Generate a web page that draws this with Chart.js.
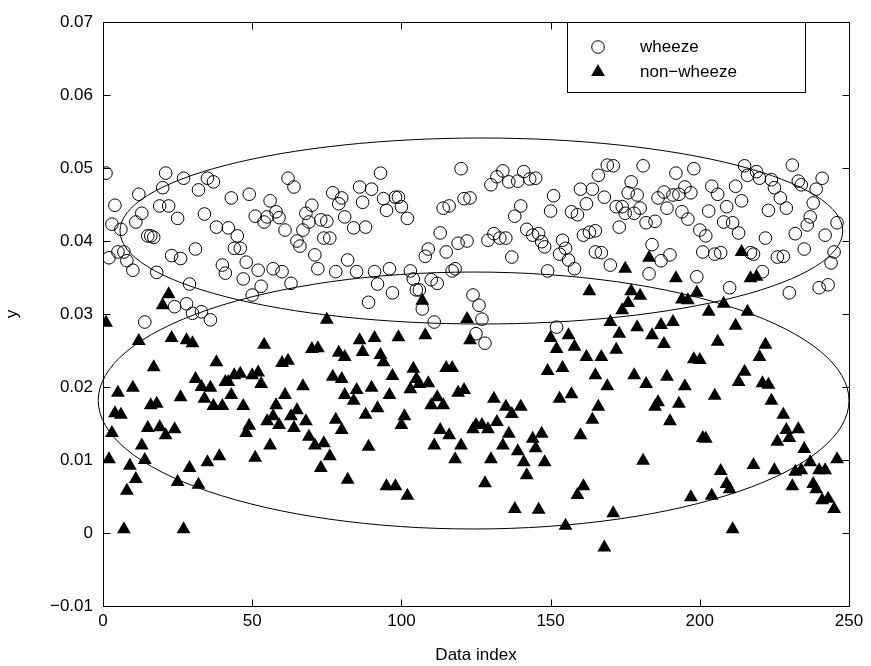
<!DOCTYPE html>
<html>
<head>
<meta charset="utf-8">
<script src="https://cdn.jsdelivr.net/npm/chart.js@4.4.0/dist/chart.umd.min.js"></script>
<style>
  html, body { margin: 0; padding: 0; background: #fff; }
  canvas { display: block; }
</style>
</head>
<body>
<canvas id="chart" width="871" height="666"></canvas>
<script>
const xTicks = [0, 50, 100, 150, 200, 250];
const yTicks = [-0.01, 0, 0.01, 0.02, 0.03, 0.04, 0.05, 0.06, 0.07];

const wheezeIndex = [
  1, 2, 3, 4, 5, 6, 7, 8, 10, 11,
  12, 13, 14, 15, 16, 17, 18, 19, 20, 21,
  22, 23, 24, 25, 26, 27, 28, 29, 30, 31,
  32, 33, 34, 35, 36, 37, 38, 40, 41, 42,
  43, 44, 45, 46, 47, 48, 49, 50, 51, 52,
  53, 54, 55, 56, 57, 58, 59, 60, 61, 62,
  63, 64, 65, 66, 67, 68, 69, 70, 71, 72,
  73, 74, 75, 76, 77, 78, 79, 80, 81, 82,
  84, 85, 86, 87, 88, 89, 90, 91, 92, 93,
  94, 95, 96, 97, 98, 99, 100, 102, 103, 104,
  105, 106, 107, 108, 109, 110, 111, 112, 113, 114,
  115, 116, 117, 118, 119, 120, 121, 122, 123, 124,
  125, 126, 127, 128, 129, 130, 131, 132, 133, 134,
  135, 136, 137, 138, 139, 140, 141, 142, 143, 144,
  145, 146, 147, 148, 149, 150, 151, 152, 153, 154,
  155, 156, 157, 158, 159, 160, 161, 162, 163, 164,
  165, 165, 166, 167, 168, 169, 170, 171, 172, 173,
  174, 175, 176, 177, 178, 179, 180, 181, 182, 183,
  184, 185, 186, 187, 188, 189, 190, 191, 192, 193,
  194, 195, 196, 197, 198, 199, 200, 201, 202, 203,
  204, 205, 206, 207, 208, 209, 210, 211, 212, 213,
  214, 215, 216, 217, 218, 219, 220, 221, 222, 223,
  224, 225, 226, 227, 228, 229, 230, 231, 232, 233,
  234, 235, 236, 237, 238, 239, 240, 241, 242, 243,
  244, 245, 246
];
const wheezeValue = [
  0.0493, 0.0377, 0.0423, 0.0449, 0.0385, 0.0416, 0.0385, 0.0373, 0.0360, 0.0426,
  0.0464, 0.0438, 0.0289, 0.0407, 0.0407, 0.0405, 0.0357, 0.0448, 0.0473, 0.0493,
  0.0448, 0.0380, 0.0310, 0.0431, 0.0376, 0.0486, 0.0314, 0.0341, 0.0301, 0.0389,
  0.0470, 0.0303, 0.0437, 0.0486, 0.0292, 0.0481, 0.0419, 0.0367, 0.0356, 0.0418,
  0.0459, 0.0390, 0.0407, 0.0390, 0.0348, 0.0371, 0.0464, 0.0326, 0.0434, 0.0360,
  0.0338, 0.0426, 0.0433, 0.0455, 0.0362, 0.0440, 0.0432, 0.0358, 0.0415, 0.0486,
  0.0342, 0.0474, 0.0400, 0.0393, 0.0415, 0.0438, 0.0426, 0.0449, 0.0381, 0.0362,
  0.0429, 0.0404, 0.0427, 0.0404, 0.0466, 0.0358, 0.0451, 0.0459, 0.0433, 0.0374,
  0.0418, 0.0358, 0.0474, 0.0453, 0.0419, 0.0316, 0.0471, 0.0358, 0.0341, 0.0493,
  0.0458, 0.0442, 0.0362, 0.0329, 0.0460, 0.0460, 0.0447, 0.0431, 0.0359, 0.0348,
  0.0333, 0.0333, 0.0307, 0.0379, 0.0389, 0.0347, 0.0289, 0.0342, 0.0411, 0.0445,
  0.0385, 0.0448, 0.0359, 0.0362, 0.0397, 0.0499, 0.0458, 0.0400, 0.0459, 0.0326,
  0.0273, 0.0312, 0.0293, 0.0260, 0.0401, 0.0477, 0.0410, 0.0488, 0.0404, 0.0496,
  0.0404, 0.0481, 0.0378, 0.0434, 0.0482, 0.0448, 0.0495, 0.0416, 0.0485, 0.0408,
  0.0486, 0.0410, 0.0399, 0.0392, 0.0359, 0.0441, 0.0462, 0.0282, 0.0382, 0.0401,
  0.0390, 0.0374, 0.0440, 0.0362, 0.0436, 0.0471, 0.0408, 0.0451, 0.0412, 0.0471,
  0.0385, 0.0414, 0.0490, 0.0384, 0.0460, 0.0504, 0.0367, 0.0503, 0.0447, 0.0419,
  0.0447, 0.0438, 0.0466, 0.0481, 0.0438, 0.0463, 0.0445, 0.0503, 0.0425, 0.0355,
  0.0395, 0.0427, 0.0459, 0.0373, 0.0467, 0.0445, 0.0381, 0.0463, 0.0493, 0.0464,
  0.0440, 0.0474, 0.0430, 0.0466, 0.0499, 0.0351, 0.0415, 0.0385, 0.0407, 0.0441,
  0.0475, 0.0382, 0.0464, 0.0384, 0.0426, 0.0447, 0.0336, 0.0425, 0.0475, 0.0411,
  0.0455, 0.0503, 0.0490, 0.0384, 0.0382, 0.0495, 0.0486, 0.0358, 0.0404, 0.0442,
  0.0484, 0.0473, 0.0378, 0.0459, 0.0379, 0.0445, 0.0329, 0.0504, 0.0410, 0.0482,
  0.0477, 0.0389, 0.0422, 0.0433, 0.0452, 0.0471, 0.0336, 0.0486, 0.0408, 0.0340,
  0.0370, 0.0385, 0.0425
];

const nonWheezeIndex = [
  1, 2, 3, 4, 5, 6, 7, 8, 9, 10,
  11, 12, 13, 14, 15, 16, 17, 18, 19, 20,
  21, 22, 23, 24, 25, 26, 27, 28, 29, 30,
  31, 32, 33, 34, 35, 36, 37, 38, 39, 40,
  41, 42, 43, 44, 46, 47, 48, 49, 50, 51,
  52, 53, 54, 55, 56, 57, 58, 59, 60, 61,
  62, 63, 64, 65, 67, 68, 69, 70, 71, 72,
  73, 74, 75, 76, 77, 78, 79, 80, 80, 81,
  81, 82, 84, 85, 86, 87, 88, 89, 90, 91,
  92, 93, 94, 95, 96, 97, 98, 99, 100, 101,
  102, 103, 104, 105, 106, 107, 108, 109, 110, 111,
  112, 113, 114, 115, 116, 117, 118, 119, 120, 121,
  122, 123, 124, 125, 127, 128, 129, 130, 131, 132,
  134, 135, 136, 137, 138, 139, 140, 141, 142, 144,
  145, 146, 147, 148, 149, 150, 152, 153, 154, 155,
  156, 157, 158, 159, 160, 161, 162, 163, 164, 165,
  166, 167, 168, 169, 170, 171, 172, 173, 174, 175,
  176, 177, 178, 179, 180, 181, 182, 183, 184, 185,
  186, 187, 188, 189, 190, 191, 192, 193, 194, 195,
  196, 197, 198, 199, 200, 201, 202, 203, 204, 205,
  206, 207, 208, 209, 210, 211, 212, 213, 214, 215,
  216, 217, 218, 219, 220, 221, 222, 223, 224, 225,
  226, 228, 229, 230, 231, 232, 233, 234, 235, 237,
  238, 239, 240, 241, 242, 243, 245, 246
];
const nonWheezeValue = [
  0.0288, 0.0101, 0.0137, 0.0164, 0.0192, 0.0162, 0.0005, 0.0058, 0.0092, 0.0199,
  0.0074, 0.0263, 0.0120, 0.0100, 0.0144, 0.0175, 0.0227, 0.0177, 0.0145, 0.0312,
  0.0134, 0.0327, 0.0267, 0.0142, 0.0070, 0.0186, 0.0005, 0.0264, 0.0089, 0.0260,
  0.0211, 0.0066, 0.0200, 0.0184, 0.0097, 0.0199, 0.0174, 0.0234, 0.0105, 0.0174,
  0.0207, 0.0207, 0.0189, 0.0216, 0.0218, 0.0174, 0.0137, 0.0147, 0.0216, 0.0103,
  0.0220, 0.0204, 0.0258, 0.0153, 0.0120, 0.0160, 0.0175, 0.0148, 0.0233, 0.0189,
  0.0236, 0.0160, 0.0144, 0.0168, 0.0201, 0.0153, 0.0132, 0.0252, 0.0120, 0.0253,
  0.0089, 0.0123, 0.0292, 0.0105, 0.0214, 0.0155, 0.0247, 0.0141, 0.0211, 0.0189,
  0.0241, 0.0073, 0.0181, 0.0196, 0.0264, 0.0248, 0.0162, 0.0118, 0.0199, 0.0267,
  0.0171, 0.0244, 0.0234, 0.0064, 0.0189, 0.0215, 0.0064, 0.0268, 0.0148, 0.0160,
  0.0051, 0.0197, 0.0225, 0.0211, 0.0204, 0.0318, 0.0271, 0.0205, 0.0175, 0.0120,
  0.0186, 0.0141, 0.0175, 0.0226, 0.0134, 0.0226, 0.0101, 0.0192, 0.0120, 0.0196,
  0.0293, 0.0264, 0.0142, 0.0148, 0.0148, 0.0068, 0.0142, 0.0101, 0.0184, 0.0152,
  0.0120, 0.0173, 0.0136, 0.0163, 0.0033, 0.0112, 0.0173, 0.0097, 0.0079, 0.0129,
  0.0116, 0.0032, 0.0136, 0.0097, 0.0222, 0.0267, 0.0252, 0.0184, 0.0226, 0.0010,
  0.0271, 0.0190, 0.0255, 0.0052, 0.0134, 0.0064, 0.0241, 0.0331, 0.0155, 0.0216,
  0.0173, 0.0241, -0.0020, 0.0201, 0.0289, 0.0027, 0.0251, 0.0273, 0.0305, 0.0362,
  0.0315, 0.0331, 0.0216, 0.0282, 0.0325, 0.0099, 0.0204, 0.0377, 0.0271, 0.0173,
  0.0179, 0.0285, 0.0259, 0.0214, 0.0153, 0.0289, 0.0349, 0.0177, 0.0320, 0.0201,
  0.0319, 0.0049, 0.0238, 0.0329, 0.0237, 0.0130, 0.0129, 0.0303, 0.0051, 0.0188,
  0.0262, 0.0085, 0.0314, 0.0067, 0.0060, 0.0005, 0.0284, 0.0207, 0.0385, 0.0221,
  0.0303, 0.0349, 0.0093, 0.0351, 0.0241, 0.0205, 0.0258, 0.0203, 0.0181, 0.0086,
  0.0125, 0.0162, 0.0141, 0.0130, 0.0064, 0.0084, 0.0142, 0.0086, 0.0115, 0.0097,
  0.0067, 0.0060, 0.0086, 0.0045, 0.0086, 0.0047, 0.0033, 0.0101
];

// ellipses around each class: centre x, centre y, half width, half height
const wheezeEllipse = [126.8, 0.04137, 121.1, 0.01274];
const nonWheezeEllipse = [124.2, 0.01815, 125.8, 0.0176];

const FONT = "'Liberation Sans', Arial, Helvetica, sans-serif";
const FONT_SIZE = 17;

function toPoints(xs, ys) {
  return xs.map((x, i) => ({ x: x, y: ys[i] }));
}

function fmtY(v) {
  if (Math.abs(v) < 1e-9) return '0';
  if (v < 0) return '\u2212' + Math.abs(v).toFixed(2);
  return v.toFixed(2);
}

const matlabAxes = {
  id: 'matlabAxes',
  afterDatasetsDraw(chart) {
    const ctx = chart.ctx;
    const sx = chart.scales.x;
    const sy = chart.scales.y;
    const area = chart.chartArea;
    ctx.save();
    ctx.strokeStyle = '#000';
    ctx.lineWidth = 1;

    [wheezeEllipse, nonWheezeEllipse].forEach(e => {
      const cx = sx.getPixelForValue(e[0]);
      const cy = sy.getPixelForValue(e[1]);
      const rx = sx.getPixelForValue(e[0] + e[2]) - cx;
      const ry = cy - sy.getPixelForValue(e[1] + e[3]);
      ctx.beginPath();
      ctx.ellipse(cx, cy, rx, ry, 0, 0, Math.PI * 2);
      ctx.stroke();
    });

    // box
    const l = Math.round(area.left) + 0.5, r = Math.round(area.right) + 0.5;
    const t = Math.round(area.top) + 0.5, b = Math.round(area.bottom) + 0.5;
    ctx.strokeRect(l, t, r - l, b - t);

    // inward ticks on all four sides
    const tl = 7;
    ctx.beginPath();
    xTicks.forEach(v => {
      const px = Math.round(sx.getPixelForValue(v)) + 0.5;
      ctx.moveTo(px, b); ctx.lineTo(px, b - tl);
      ctx.moveTo(px, t); ctx.lineTo(px, t + tl);
    });
    yTicks.forEach(v => {
      const py = Math.round(sy.getPixelForValue(v)) + 0.5;
      ctx.moveTo(l, py); ctx.lineTo(l + tl, py);
      ctx.moveTo(r, py); ctx.lineTo(r - tl, py);
    });
    ctx.stroke();

    // legend
    const lx = 567.5, ly = 22.5, lw = 238, lh = 70;
    ctx.fillStyle = '#fff';
    ctx.fillRect(lx, ly, lw, lh);
    ctx.strokeRect(lx, ly, lw, lh);

    ctx.beginPath();
    ctx.arc(598, 47, 6.3, 0, Math.PI * 2);
    ctx.stroke();

    const tr = 8;
    ctx.fillStyle = '#000';
    ctx.beginPath();
    ctx.moveTo(598, 72 - tr);
    ctx.lineTo(598 + tr * Math.sin(2 * Math.PI / 3), 72 + tr / 2);
    ctx.lineTo(598 - tr * Math.sin(2 * Math.PI / 3), 72 + tr / 2);
    ctx.closePath();
    ctx.fill();

    ctx.font = FONT_SIZE + 'px ' + FONT;
    ctx.textBaseline = 'middle';
    ctx.textAlign = 'left';
    ctx.fillText(chart.data.datasets[0].label, 640, 47);
    ctx.fillText(chart.data.datasets[1].label, 640, 72);
    ctx.restore();
  }
};

const ctx = document.getElementById('chart').getContext('2d');

const chart = new Chart(ctx, {
  type: 'scatter',
  data: {
    datasets: [
      {
        label: 'wheeze',
        data: toPoints(wheezeIndex, wheezeValue),
        pointStyle: 'circle',
        pointRadius: 6.3,
        pointBorderWidth: 1,
        borderColor: '#000',
        backgroundColor: 'rgba(0,0,0,0)'
      },
      {
        label: 'non\u2212wheeze',
        data: toPoints(nonWheezeIndex, nonWheezeValue),
        pointStyle: 'triangle',
        pointRadius: 8,
        pointBorderWidth: 0,
        borderColor: '#000',
        backgroundColor: '#000'
      }
    ]
  },
  options: {
    responsive: false,
    animation: false,
    devicePixelRatio: 1,
    layout: { padding: { top: 22, right: 22, left: 0, bottom: 0 } },
    plugins: {
      legend: { display: false },
      tooltip: { enabled: false }
    },
    scales: {
      x: {
        type: 'linear',
        min: 0,
        max: 250,
        afterBuildTicks: s => { s.ticks = xTicks.map(v => ({ value: v })); },
        afterFit: s => { s.height = 60; },
        grid: { display: false, drawTicks: false },
        border: { display: false },
        ticks: {
          color: '#000',
          padding: 5,
          maxRotation: 0,
          font: { family: FONT, size: FONT_SIZE }
        },
        title: {
          display: true,
          text: 'Data index',
          color: '#000',
          padding: { top: 0, bottom: 0 },
          font: { family: FONT, size: FONT_SIZE }
        }
      },
      y: {
        type: 'linear',
        min: -0.01,
        max: 0.07,
        afterBuildTicks: s => { s.ticks = yTicks.map(v => ({ value: v })); },
        afterFit: s => { s.width = 103; },
        grid: { display: false, drawTicks: false },
        border: { display: false },
        ticks: {
          color: '#000',
          padding: 10,
          callback: v => fmtY(v),
          font: { family: FONT, size: FONT_SIZE }
        },
        title: {
          display: true,
          text: 'y',
          color: '#000',
          padding: { top: 2, bottom: 0 },
          font: { family: FONT, size: FONT_SIZE }
        }
      }
    }
  },
  plugins: [matlabAxes]
});
</script>
</body>
</html>
